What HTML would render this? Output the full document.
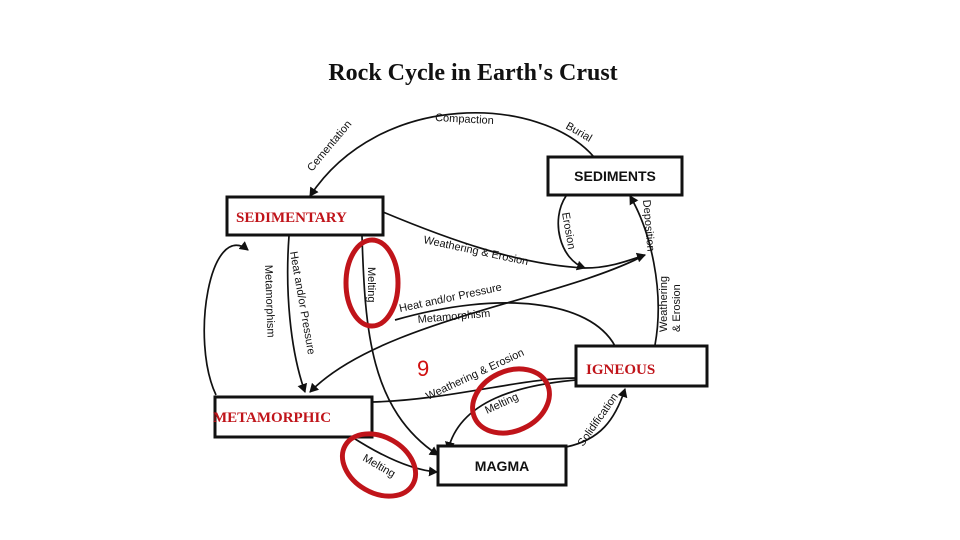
<!DOCTYPE html>
<html><head><style>
body{margin:0;background:#fff;}
svg{display:block}
.l{font-family:"Liberation Sans",sans-serif;font-size:11px;fill:#111}
</style></head><body>
<svg width="960" height="540" viewBox="0 0 960 540">
<defs><marker id="a" markerWidth="10" markerHeight="10" refX="8" refY="5" orient="auto" markerUnits="userSpaceOnUse"><path d="M0,0 L9,5 L0,10 Z" fill="#111"/></marker></defs>
<text x="473" y="80" text-anchor="middle" font-family="Liberation Serif,serif" font-weight="bold" font-size="24" fill="#111">Rock Cycle in Earth's Crust</text>
<g fill="none" stroke="#111" stroke-width="1.7">
<path d="M594,157 C540,95 380,90 310,196" marker-end="url(#a)"/>
<path d="M383,212 C450,240 520,265 585,268 C610,268 630,260 645,255" marker-end="url(#a)"/>
<path d="M566,196 C550,220 560,260 585,268" marker-end="url(#a)"/>
<path d="M655,345 C665,290 650,230 630,196" marker-end="url(#a)"/>
<path d="M645,255 C560,300 380,320 310,392" marker-end="url(#a)"/>
<path d="M615,346 C590,300 500,290 395,320"/>
<path d="M289,236 C285,290 290,350 305,392" marker-end="url(#a)"/>
<path d="M216,395 C190,340 210,220 248,250" marker-end="url(#a)"/>
<path d="M362,236 C365,330 370,410 438,455" marker-end="url(#a)"/>
<path d="M352,437 C380,455 410,470 437,472" marker-end="url(#a)"/>
<path d="M372,402 C450,400 520,378 576,378"/>
<path d="M576,380 C520,385 460,400 448,450" marker-end="url(#a)"/>
<path d="M566,447 C600,440 615,420 625,389" marker-end="url(#a)"/>
</g>
<g fill="#fff" stroke="#111" stroke-width="3">
<rect x="548" y="157" width="134" height="38"/>
<rect x="227" y="197" width="156" height="38"/>
<rect x="576" y="346" width="131" height="40"/>
<rect x="215" y="397" width="157" height="40"/>
<rect x="438" y="446" width="128" height="39"/>
</g>
<text x="615" y="181" text-anchor="middle" font-family="Liberation Sans,sans-serif" font-weight="bold" font-size="14" fill="#111">SEDIMENTS</text>
<text x="502" y="471" text-anchor="middle" font-family="Liberation Sans,sans-serif" font-weight="bold" font-size="14" fill="#111">MAGMA</text>
<g font-family="Liberation Serif,serif" font-size="15" font-weight="bold" fill="#c0141a">
<text x="236" y="222">SEDIMENTARY</text>
<text x="586" y="374">IGNEOUS</text>
<text x="213" y="422">METAMORPHIC</text>
</g>
<text x="417" y="376" font-family="Liberation Sans,sans-serif" font-size="22" fill="#d01010">9</text>
<g class="l">
<text x="0" y="0" transform="translate(312,172) rotate(-50)">Cementation</text>
<text x="435" y="121" transform="rotate(3 435 121)">Compaction</text>
<text x="565" y="128" transform="rotate(30 565 128)">Burial</text>
<text x="423" y="243" transform="rotate(12 423 243)">Weathering &amp; Erosion</text>
<text x="562" y="213" transform="rotate(80 562 213)">Erosion</text>
<text x="643" y="200" transform="rotate(85 643 200)">Deposition</text>
<text x="667" y="332" transform="rotate(-90 667 332)">Weathering</text>
<text x="680" y="332" transform="rotate(-90 680 332)">&amp; Erosion</text>
<text x="400" y="312" transform="rotate(-12 400 312)">Heat and/or Pressure</text>
<text x="418" y="323" transform="rotate(-5 418 323)">Metamorphism</text>
<text x="290" y="252" transform="rotate(80 290 252)">Heat and/or Pressure</text>
<text x="265" y="265" transform="rotate(88 265 265)">Metamorphism</text>
<text x="368" y="267" transform="rotate(90 368 267)">Melting</text>
<text x="428" y="400" transform="rotate(-25 428 400)">Weathering &amp; Erosion</text>
<text x="487" y="414" transform="rotate(-25 487 414)">Melting</text>
<text x="362" y="460" transform="rotate(30 362 460)">Melting</text>
<text x="583" y="447" transform="rotate(-55 583 447)">Solidification</text>
</g>
<g fill="none" stroke="#c0141a" stroke-width="5">
<ellipse cx="372" cy="283" rx="26" ry="43"/>
<ellipse cx="511" cy="401" rx="40" ry="30" transform="rotate(-25 511 401)"/>
<ellipse cx="379" cy="465" rx="39" ry="28" transform="rotate(30 379 465)"/>
</g>
</svg>
</body></html>
